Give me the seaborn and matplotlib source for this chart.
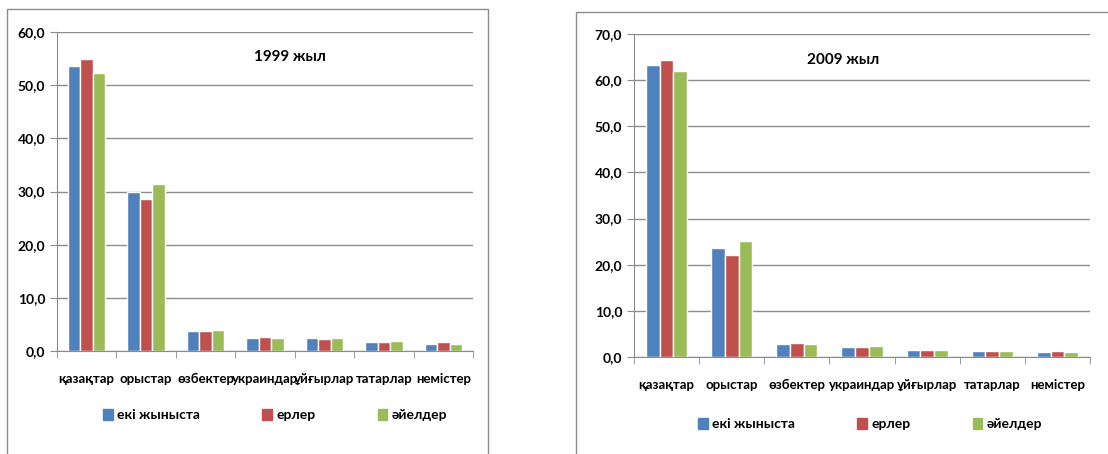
import pandas as pd
import numpy as np
import matplotlib
matplotlib.use('Agg')
import matplotlib.pyplot as plt
import seaborn as sns
from matplotlib.ticker import FuncFormatter, FixedLocator
from matplotlib.patches import Rectangle, Patch

# деректер
ulttar = ['қазақтар', 'орыстар', 'өзбектер', 'украиндар', 'ұйғырлар', 'татарлар', 'немістер']
toptar = ['екі жыныста', 'ерлер', 'әйелдер']

eki_1999 = [53.6, 30.0, 3.7, 2.5, 2.5, 1.6, 1.4]
erler_1999 = [55.0, 28.5, 3.7, 2.7, 2.3, 1.6, 1.6]
ayel_1999 = [52.3, 31.4, 3.9, 2.5, 2.5, 1.8, 1.4]

eki_2009 = [63.3, 23.7, 2.9, 2.1, 1.6, 1.3, 1.1]
erler_2009 = [64.4, 22.2, 3.1, 2.1, 1.6, 1.3, 1.3]
ayel_2009 = [62.0, 25.2, 2.9, 2.3, 1.6, 1.3, 1.1]

tusder = ['#4F81BD', '#C0504D', '#9BBB59']

sns.set_style('white')
plt.rcParams['font.family'] = ['Lato', 'DejaVu Sans']
plt.rcParams['font.weight'] = 'bold'
plt.rcParams['text.color'] = 'black'
plt.rcParams['xtick.color'] = 'black'
plt.rcParams['ytick.color'] = 'black'


def kestege(seriyalar):
    rows = []
    for name, vals in zip(toptar, seriyalar):
        for u, v in zip(ulttar, vals):
            rows.append({'ult': u, 'top': name, 'val': v})
    return pd.DataFrame(rows)


fig = plt.figure(figsize=(11.08, 4.54), dpi=100)

# панель жақтаулары
fig.patches.append(Rectangle((7 / 1108, -0.1), (488 - 7) / 1108, 1.1 - 9 / 454,
                             transform=fig.transFigure, fill=False, ec='#8c8c8c', lw=1))
fig.patches.append(Rectangle((576 / 1108, -0.1), 0.6, 1.1 - 12 / 454,
                             transform=fig.transFigure, fill=False, ec='#8c8c8c', lw=1))

ax1 = fig.add_axes([57 / 1108, 1 - 351 / 454, (473 - 57) / 1108, (351 - 32) / 454])
ax2 = fig.add_axes([634 / 1108, 1 - 357 / 454, (1090 - 634) / 1108, (357 - 34) / 454])

sets = [
    (ax1, [eki_1999, erler_1999, ayel_1999], 60, '1999 жыл', (290 / 1108, 1 - 57 / 454), (275 / 1108, 1 - 415 / 454)),
    (ax2, [eki_2009, erler_2009, ayel_2009], 70, '2009 жыл', (843 / 1108, 1 - 60 / 454), (870 / 1108, 1 - 424 / 454)),
]

for ax, ser, ymax, title, tpos, lpos in sets:
    df = kestege(ser)
    sns.barplot(data=df, x='ult', y='val', hue='top', palette=tusder, width=0.63,
                saturation=1, ax=ax, legend=False)
    ax.set_ylim(0, ymax)
    ax.set_xlim(-0.5, 6.5)
    ax.set_yticks(np.arange(0, ymax + 1, 10))
    ax.yaxis.set_major_formatter(FuncFormatter(lambda v, p: f'{v:.1f}'.replace('.', ',')))
    ax.grid(axis='y', color='#8c8c8c', lw=1)
    ax.set_axisbelow(True)
    for s in ['top', 'right']:
        ax.spines[s].set_visible(False)
    ax.spines['left'].set_color('#8c8c8c')
    ax.spines['bottom'].set_color('#8c8c8c')
    ax.xaxis.set_minor_locator(FixedLocator(np.arange(-0.5, 7, 1)))
    ax.tick_params(axis='x', which='major', length=0, pad=16, labelsize=9.5)
    ax.tick_params(axis='x', which='minor', length=5, color='#8c8c8c', direction='out', bottom=True)
    ax.tick_params(axis='y', length=5, color='#8c8c8c', direction='out', left=True, labelsize=10)
    ax.set_xlabel('')
    ax.set_ylabel('')
    fig.text(tpos[0], tpos[1], title, ha='center', va='center', fontsize=11, fontweight='bold')
    handles = [Patch(color=c, label=l) for c, l in zip(tusder, toptar)]
    fig.legend(handles=handles, loc='center', bbox_to_anchor=lpos, ncol=3, frameon=False,
               fontsize=10, handlelength=0.7, handleheight=0.9, handletextpad=0.3,
               columnspacing=4.5)

fig.savefig('out.png', dpi=100)
